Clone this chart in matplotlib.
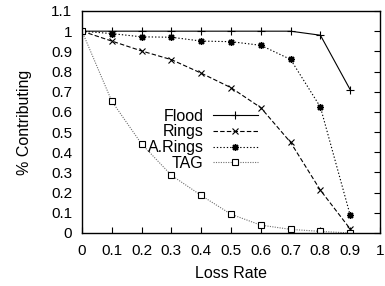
import numpy as np
import matplotlib
matplotlib.use('Agg')
import matplotlib.pyplot as plt

plt.rcParams['font.family'] = ['Liberation Sans', 'DejaVu Sans']

# Data
loss_rate = [0, 0.1, 0.2, 0.3, 0.4, 0.5, 0.6, 0.7, 0.8, 0.9]
flood = [1, 1, 1, 1, 1, 1, 1, 1, 0.98, 0.71]
rings = [1, 0.951, 0.902, 0.859, 0.792, 0.72, 0.621, 0.449, 0.212, 0.02]
a_rings = [1, 0.988, 0.972, 0.97, 0.951, 0.948, 0.93, 0.86, 0.624, 0.088]
tag = [1, 0.653, 0.441, 0.286, 0.186, 0.093, 0.039, 0.018, 0.008, 0.0]

x_ticks = [0, 0.1, 0.2, 0.3, 0.4, 0.5, 0.6, 0.7, 0.8, 0.9, 1]
y_ticks = [0, 0.1, 0.2, 0.3, 0.4, 0.5, 0.6, 0.7, 0.8, 0.9, 1, 1.1]

fig = plt.figure(figsize=(3.85, 2.86), dpi=100)
ax = fig.add_axes([82 / 385, 53 / 286, 298 / 385, 222 / 286])

lw = 0.8
ax.plot(loss_rate, flood, '-', color='black', lw=lw, marker='+', ms=6,
        mew=0.8, label='Flood')
ax.plot(loss_rate, rings, color='black', lw=lw, dashes=(4, 2), marker='x',
        ms=5, mew=0.8, label='Rings')
ax.plot(loss_rate, a_rings, color='black', lw=lw, dashes=(1.2, 1.8),
        marker=(8, 2, 0), ms=5, mew=1.0, label='A.Rings')
ax.plot(loss_rate, tag, color='#707070', lw=lw, dashes=(1, 1.2), marker='s',
        ms=4.5, mfc='white', mec='black', mew=0.8, label='TAG')

ax.set_xlim(0, 1)
ax.set_ylim(0, 1.1)
ax.set_xticks(x_ticks)
ax.set_xticklabels(['%g' % v for v in x_ticks])
ax.set_yticks(y_ticks)
ax.set_yticklabels(['%g' % v for v in y_ticks])

ax.tick_params(axis='x', direction='in', length=4, width=0.8, pad=8,
               labelsize=11, top=False)
ax.tick_params(axis='y', direction='in', length=4, width=0.8, pad=7,
               labelsize=11, left=False, right=True)
for s in ax.spines.values():
    s.set_linewidth(1.0)

ax.set_xlabel('Loss Rate', fontsize=11.5, labelpad=6)
ax.set_ylabel('% Contributing', fontsize=11.5, labelpad=14)

ax.legend(loc='upper right', bbox_to_anchor=(0.59, 0.56), frameon=False,
          markerfirst=False, fontsize=11.5, handlelength=2.8,
          handletextpad=0.6, labelspacing=0.05, borderpad=0, borderaxespad=0)

fig.savefig('out.png', dpi=100)
